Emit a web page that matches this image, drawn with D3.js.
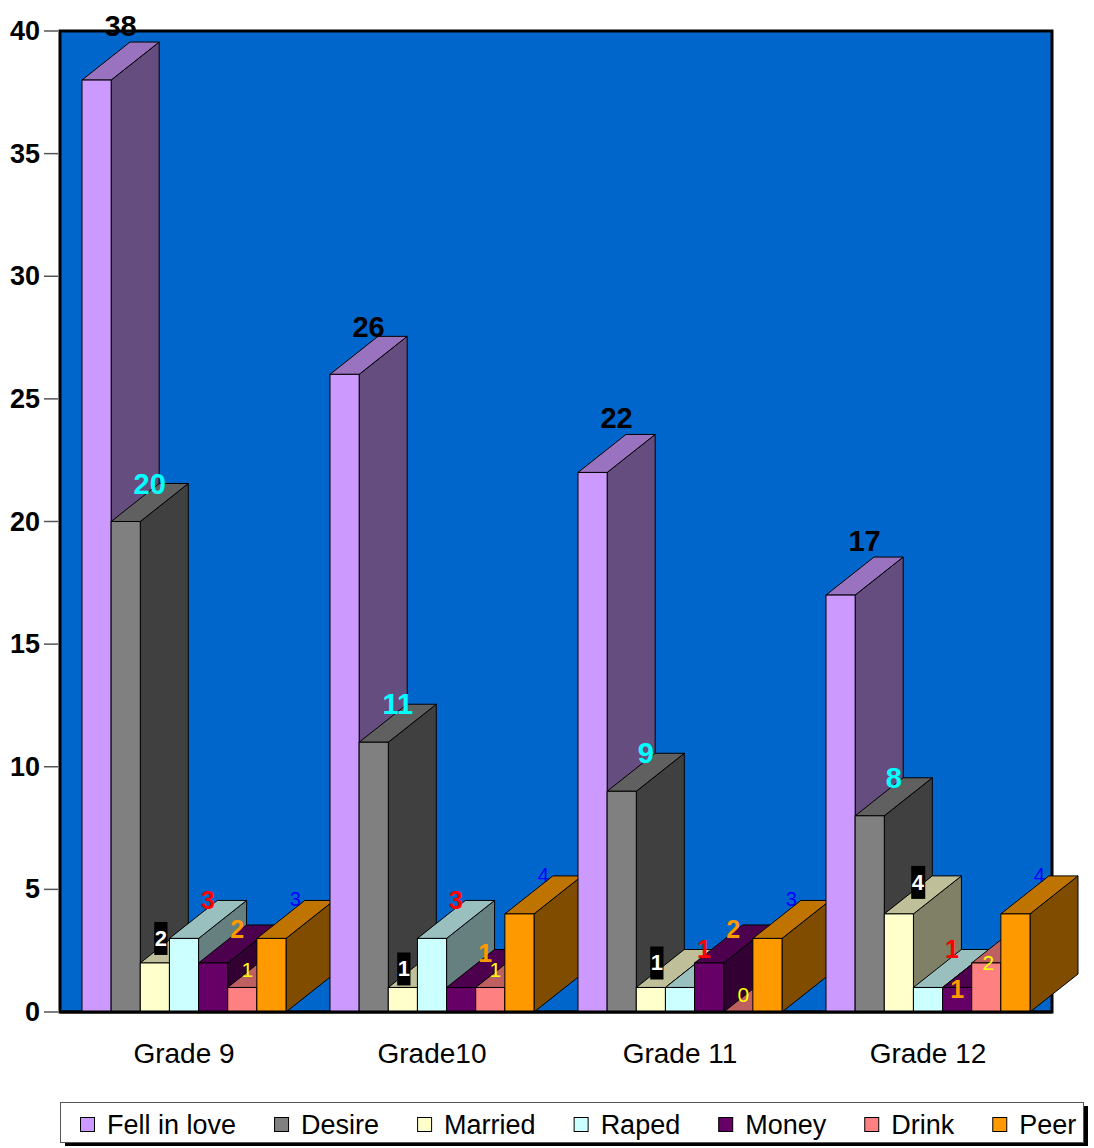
<!DOCTYPE html>
<html>

<head>
    <meta charset="utf-8">
    <style>
        body {
            margin: 0;
            background: white;
        }

        svg {
            display: block;
            font-family: Arial, 'Liberation Sans', sans-serif;
        }
    </style>
</head>

<body>
    <svg width="1094" height="1148"></svg>

<script src="https://d3js.org/d3.v7.min.js"></script>

<script>
    // data
    let categories = ["Grade 9", "Grade10", "Grade 11", "Grade 12"]
    let seriesNames = ["Fell in love", "Desire", "Married", "Raped", "Money", "Drink", "Peer"]
    let fellInLove = [38, 26, 22, 17]
    let desire = [20, 11, 9, 8]
    let married = [2, 1, 1, 4]
    let raped = [3, 3, 1, 1]
    let money = [2, 1, 2, 1]
    let drink = [1, 1, 0, 2]
    let peer = [3, 4, 3, 4]
    let yTicks = [0, 5, 10, 15, 20, 25, 30, 35, 40]

    let seriesValues = [fellInLove, desire, married, raped, money, drink, peer]

    let colors = ["#CC99FF", "#808080", "#FFFFCC", "#CCFFFF", "#660066", "#FF8080", "#FF9900"]

    // how each series label looks (kept apart from the values)
    let labelStyle = [
        { fill: "#000000", size: 29, weight: "bold", mode: "back", dx: 0, dy: -6 },
        { fill: "#00FFFF", size: 29, weight: "bold", mode: "back", dx: 0, dy: 10 },
        { fill: "#FFFFFF", size: 22, weight: "bold", mode: "box", dx: 6, dy: 21 },
        { fill: "#FF0000", size: 25, weight: "bold", mode: "back", dx: 0, dy: 9 },
        { fill: "#FF9900", size: 25, weight: "bold", mode: "back", dx: 0, dy: 13 },
        { fill: "#FFFF00", size: 21, weight: "normal", mode: "front", dx: 5, dy: -10 },
        { fill: "#0000FF", size: 20, weight: "normal", mode: "back", dx: 0, dy: 6 }
    ]

    // a few labels were dragged by hand in the original
    let labelNudge = {
        "Grade 12|Money": [-24, 36],
        "Grade 12|Drink": [-3, 17],
        "Grade 12|Married": [13, -7],
        "Grade10|Married": [-5, 6],
        "Grade10|Fell in love": [0, 7]
    }

    let plotLeft = 60, plotRight = 1052, plotTop = 31, plotBottom = 1012
    let depthX = 48, depthY = 38

    let svg = d3.select("svg")

    let x0 = d3.scaleBand()
        .domain(categories)
        .range([plotLeft, plotRight])

    let x1 = d3.scaleBand()
        .domain(seriesNames)
        .range([22, x0.bandwidth() - 22])

    let y = d3.scaleLinear()
        .domain([0, 40])
        .range([plotBottom, plotTop])

    function shade(c, k) {
        let col = d3.rgb(c)
        return d3.rgb(col.r * k, col.g * k, col.b * k).formatHex()
    }

    // plot area
    svg.append("rect")
        .attr("x", plotLeft)
        .attr("y", plotTop)
        .attr("width", plotRight - plotLeft)
        .attr("height", plotBottom - plotTop)
        .style("fill", "#0066CC")
        .style("stroke", "#000")
        .style("stroke-width", 3)

    // flatten into one list, drawn left to right so nearer faces cover
    let bars = []
    categories.forEach((cat, ci) => {
        seriesNames.forEach((s, si) => {
            bars.push({ cat: cat, series: s, si: si, value: seriesValues[si][ci] })
        })
    })

    let barG = svg.append("g")

    bars.forEach(d => {
        let xl = x0(d.cat) + x1(d.series)
        let xr = xl + x1.bandwidth()
        let yt = y(d.value)
        let yb = y(0)
        let c = colors[d.si]

        let g = barG.append("g")

        // right side
        g.append("polygon")
            .attr("points", [[xr, yt], [xr + depthX, yt - depthY], [xr + depthX, yb - depthY], [xr, yb]].join(" "))
            .style("fill", shade(c, 0.5))
            .style("stroke", "#000")
            .style("stroke-width", 1)
            .style("stroke-linejoin", "round")

        // top
        g.append("polygon")
            .attr("points", [[xl, yt], [xr, yt], [xr + depthX, yt - depthY], [xl + depthX, yt - depthY]].join(" "))
            .style("fill", shade(c, 0.75))
            .style("stroke", "#000")
            .style("stroke-width", 1)
            .style("stroke-linejoin", "round")

        // front
        g.append("rect")
            .attr("x", xl)
            .attr("y", yt)
            .attr("width", x1.bandwidth())
            .attr("height", yb - yt)
            .style("fill", c)
            .style("stroke", "#000")
            .style("stroke-width", 1)
    })

    // base line over the bar feet
    svg.append("line")
        .attr("x1", plotLeft)
        .attr("x2", plotRight)
        .attr("y1", plotBottom)
        .attr("y2", plotBottom)
        .style("stroke", "#000")
        .style("stroke-width", 3)

    // y axis
    let yAxis = svg.append("g")

    yAxis.selectAll("line")
        .data(yTicks)
        .join("line")
        .attr("x1", 44)
        .attr("x2", plotLeft - 2)
        .attr("y1", d => y(d))
        .attr("y2", d => y(d))
        .style("stroke", "#555")
        .style("stroke-width", 1.5)

    yAxis.selectAll("text")
        .data(yTicks)
        .join("text")
        .attr("x", 40)
        .attr("y", d => y(d) + 9)
        .attr("text-anchor", "end")
        .style("font-size", "27px")
        .style("font-weight", "bold")
        .text(d => d)

    // category labels
    svg.selectAll(".cat-label")
        .data(categories)
        .join("text")
        .attr("class", "cat-label")
        .attr("x", d => x0(d) + x0.bandwidth() / 2)
        .attr("y", 1063)
        .attr("text-anchor", "middle")
        .style("font-size", "28px")
        .text(d => d)

    // value labels
    let labelG = svg.append("g")

    bars.forEach(d => {
        let st = labelStyle[d.si]
        let xl = x0(d.cat) + x1(d.series)
        let xc = xl + x1.bandwidth() / 2
        let yt = y(d.value)
        let lx, ly
        if (st.mode == "front") {
            lx = xc + st.dx
            ly = yt + st.dy
        } else if (st.mode == "box") {
            lx = xc + st.dx
            ly = yt - depthY + st.dy
        } else {
            lx = xc + depthX / 2 + st.dx
            ly = yt - depthY + st.dy
        }
        let nudge = labelNudge[d.cat + "|" + d.series]
        if (nudge) {
            lx += nudge[0]
            ly += nudge[1]
        }

        let t = labelG.append("text")
            .attr("x", lx)
            .attr("y", ly)
            .attr("text-anchor", "middle")
            .style("font-size", st.size + "px")
            .style("font-weight", st.weight)
            .style("fill", st.fill)
            .text(d.value)

        if (st.mode == "box") {
            let bb = t.node().getBBox()
            labelG.insert("rect", () => t.node())
                .attr("x", bb.x - 0.5)
                .attr("y", ly - 24)
                .attr("width", bb.width + 1)
                .attr("height", 33)
                .style("fill", "#000")
        }
    })

    // legend
    let legend = svg.append("g")

    legend.append("rect")
        .attr("x", 65)
        .attr("y", 1106)
        .attr("width", 1023)
        .attr("height", 40)
        .style("fill", "#000")

    legend.append("rect")
        .attr("x", 60.5)
        .attr("y", 1102.5)
        .attr("width", 1023)
        .attr("height", 40)
        .style("fill", "#fff")
        .style("stroke", "#555")
        .style("stroke-width", 1)

    let lx = 80
    seriesNames.forEach((s, i) => {
        legend.append("rect")
            .attr("x", lx + 0.5)
            .attr("y", 1117.5)
            .attr("width", 14)
            .attr("height", 14)
            .style("fill", colors[i])
            .style("stroke", "#000")
            .style("stroke-width", 1)

        let t = legend.append("text")
            .attr("x", lx + 27)
            .attr("y", 1134)
            .style("font-size", "27px")
            .text(s)

        lx += 27 + t.node().getComputedTextLength() + 38
    })
</script>
</body>

</html>
